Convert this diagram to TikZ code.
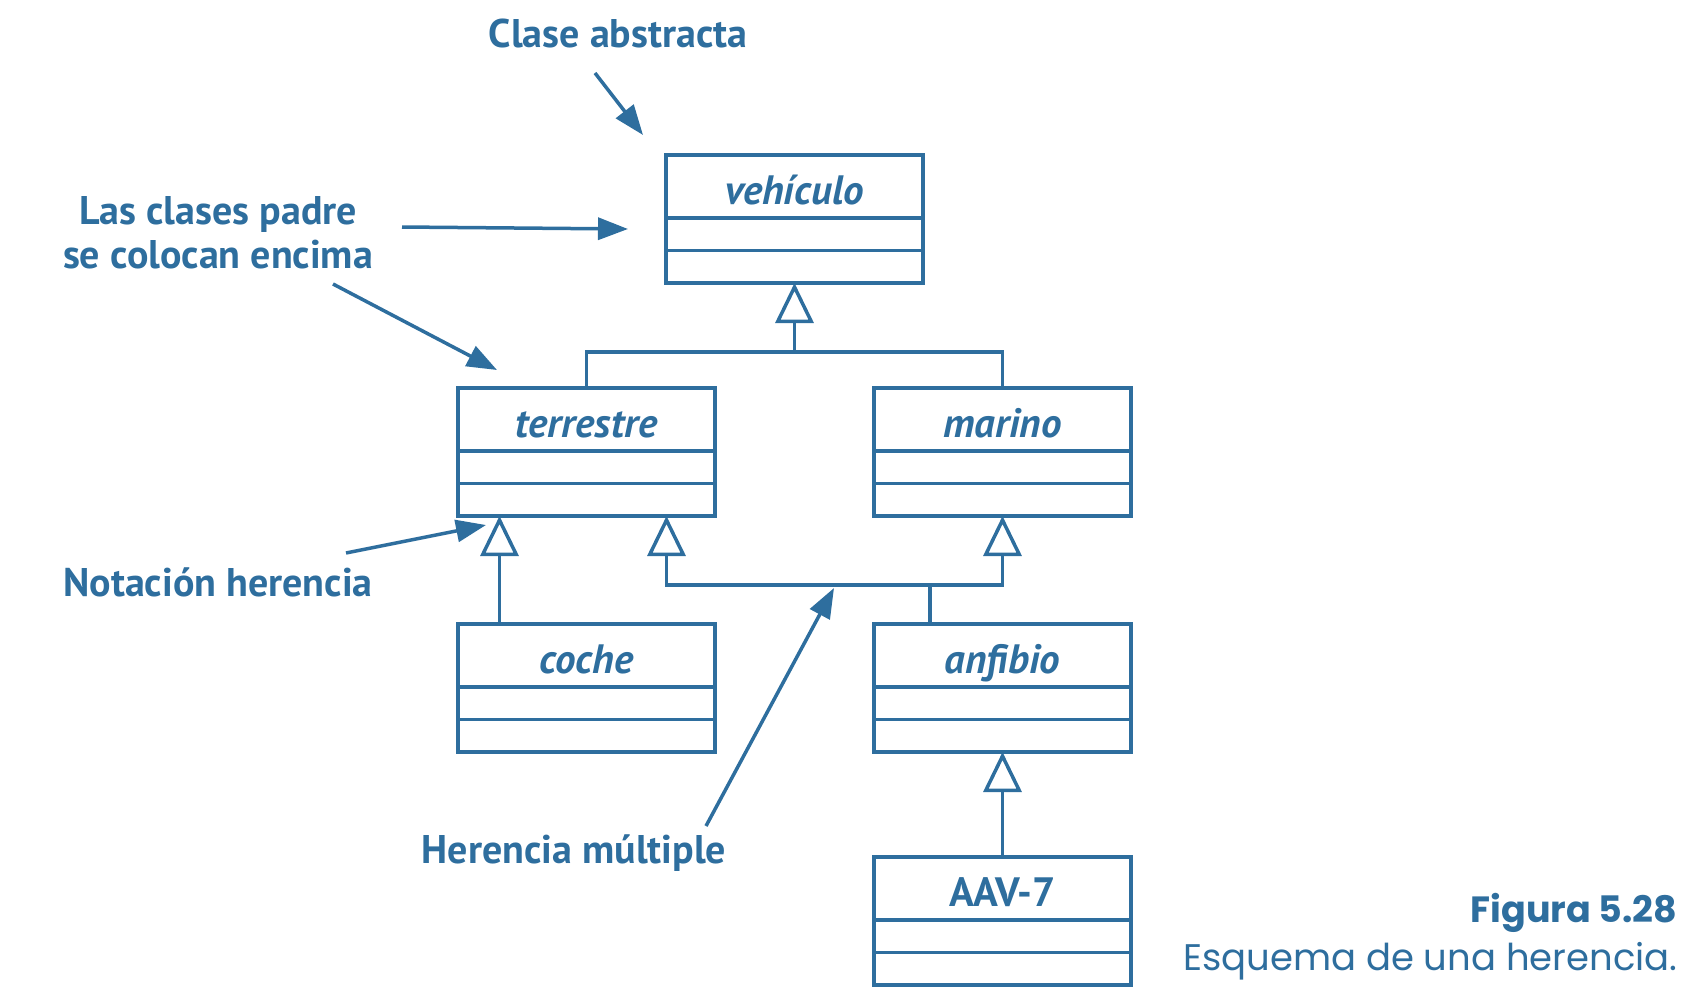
\documentclass[tikz,border=0pt]{standalone}
\usepackage{fontspec}
\setmainfont{PT Sans}
\newfontfamily\capfont{Poppins}
\usetikzlibrary{positioning,arrows.meta}
\definecolor{azul}{HTML}{2E6E9E}
\tikzset{
  clase/.style={draw=azul, line width=3.5pt, outer sep=0pt, inner sep=0pt,
    minimum width=257pt, minimum height=63pt, text=azul,
    text height=35pt, text depth=0pt,
    font=\fontsize{41}{45}\selectfont\bfseries\itshape},
  compart/.style={draw=azul, line width=3.5pt, outer sep=0pt, inner sep=0pt,
    minimum width=257pt, minimum height=32.5pt},
  hereda/.style={draw=azul, line width=3.5pt, -{Triangle[open, length=40pt, width=38pt]}},
  flecha/.style={draw=azul, line width=3.5pt, -{Triangle[length=30pt, width=22pt]}},
  nota/.style={text=azul, align=center, font=\fontsize{40}{44}\selectfont\bfseries},
}
% caja de clase: nombre, x, y, texto
\newcommand{\umlclase}[4]{%
  \node[clase] (#1) at (#2,#3) {#4};
  \node[compart, below=0pt of #1] (#1a) {};
  \node[compart, below=0pt of #1a] (#1b) {};
}
\begin{document}
\begin{tikzpicture}[x=1pt, y=-1pt]
  \useasboundingbox (0,0) rectangle (1686,994);
  % Clases
  \umlclase{veh}{794.5}{186.5}{vehículo}
  \umlclase{terr}{586.5}{419.5}{terrestre}
  \umlclase{mar}{1002.5}{419.5}{marino}
  \umlclase{coche}{586.5}{655.5}{coche}
  \umlclase{anf}{1002.5}{655.5}{anfibio}
  \umlclase{aav}{1002.5}{888.5}{\upshape AAV-7}
  % Herencia simple
  \coordinate (bus) at (794.5,352);
  \draw[hereda] (terr.north) |- (bus) -- (vehb.south);
  \draw[azul, line width=3.5pt] (mar.north) |- (bus);
  \draw[hereda] ([xshift=-87pt]coche.north) -- ([xshift=-87pt]terrb.south);
  \draw[hereda] (aav.north) -- (anfb.south);
  % Herencia multiple
  \coordinate (mh) at (930,585);
  \draw[azul, line width=3.5pt] ([xshift=-72.5pt]anf.north) -- (mh);
  \draw[hereda] (mh) -| ([xshift=80pt]terrb.south);
  \draw[hereda] (mh) -| (marb.south);
  % Notas
  \node[nota] (abstracta) at (618,33) {Clase abstracta};
  \node[nota] (padre) at (218,233) {Las clases padre\\se colocan encima};
  \node[nota] (notacion) at (218,582) {Notación herencia};
  \node[nota] (multiple) at (574,853) {Herencia múltiple};
  \coordinate (a1) at (595,73);   \coordinate (b1) at (643,135);
  \coordinate (a2) at (402,227);  \coordinate (b2) at (628,229);
  \coordinate (a3) at (333,284);  \coordinate (b3) at (497,370);
  \coordinate (a4) at (346,553);  \coordinate (b4) at (486,525);
  \coordinate (a5) at (706,826);  \coordinate (b5) at (834,588);
  \foreach \i in {1,...,5}
    \draw[flecha] (a\i) -- (b\i);
  % Pie de figura
  \node[anchor=east, text=azul, font=\capfont\bfseries\fontsize{36.5}{40}\selectfont] (fig) at (1681,913) {Figura 5.28};
  \node[anchor=east, text=azul, font=\capfont\fontsize{37}{40}\selectfont] (pie) at (1681,961) {Esquema de una herencia.};
\end{tikzpicture}
\end{document}
